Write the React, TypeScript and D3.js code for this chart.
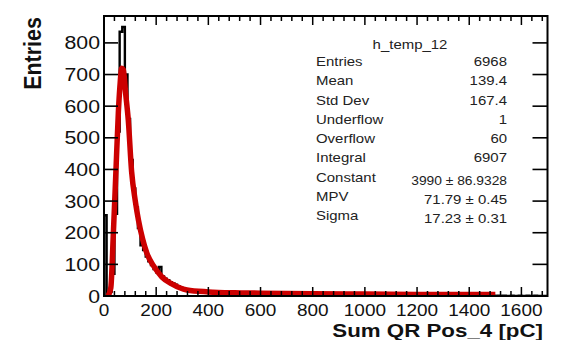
import * as d3 from 'd3';

// histogram counts, bins of 10 pC from 0 to 1700
const binWidth = 10;
const counts = [
  255, 3, 14, 70, 260, 520, 835, 850, 700, 560,
  430, 340, 280, 215, 160, 145, 125, 110, 98, 85,
  75, 92, 62, 55, 50, 44, 40, 36, 30, 26,
  22, 20, 19, 18, 16, 15, 15, 14, 13, 12,
  12, 11, 14, 10, 9, 10, 8, 9, 11, 8,
  8, 7, 9, 6, 7, 6, 8, 5, 6, 7,
  5, 6, 4, 5, 6, 4, 5, 3, 4, 5,
  4, 3, 5, 3, 4, 3, 4, 2, 3, 4,
  3, 2, 3, 3, 2, 4, 2, 3, 2, 3,
  2, 3, 2, 2, 3, 1, 2, 2, 3, 2,
  2, 1, 2, 2, 1, 3, 1, 2, 2, 1,
  1, 2, 1, 2, 1, 1, 2, 1, 1, 2,
  1, 1, 2, 1, 1, 1, 0, 2, 1, 1,
  1, 0, 1, 1, 2, 0, 1, 1, 0, 1,
  1, 1, 0, 1, 1, 0, 1, 0, 1, 1,
  0, 1, 0, 1, 0, 0, 1, 0, 0, 1,
  0, 0, 1, 0, 0, 1, 0, 0, 0, 0,
];

// landau fit curve
const fitX = [15, 26, 36, 46, 55, 61, 68, 74, 83, 93, 106, 120, 132, 148, 164, 190, 222, 260, 318, 400, 500, 600, 800, 1000, 1200, 1500];
const fitY = [0, 25, 200, 400, 580, 662, 720, 715, 640, 557, 392, 300, 240, 180, 136, 95, 60, 38, 19, 13, 10, 9, 7, 6, 5, 5];

const xTicks = [0, 200, 400, 600, 800, 1000, 1200, 1400, 1600];
const yTicks = [0, 100, 200, 300, 400, 500, 600, 700, 800];

const statTitle = 'h_temp_12';
const statLabels = ['Entries', 'Mean', 'Std Dev', 'Underflow', 'Overflow', 'Integral', 'Constant', 'MPV', 'Sigma'];
const statValues = ['6968', '139.4', '167.4', '1', '60', '6907', '3990 ± 86.9328', '71.79 ± 0.45', '17.23 ± 0.31'];

const font = '"Liberation Sans", Arial, Helvetica, sans-serif';

export default function App() {
  const width = 564;
  const height = 340;
  const frame = { left: 104, right: 547.5, top: 16, bottom: 296 };

  const x = d3.scaleLinear().domain([0, 1700]).range([frame.left, frame.right]);
  const y = d3.scaleLinear().domain([0, 885]).range([frame.bottom, frame.top]);

  const histPts: [number, number][] = counts.map((c, i) => [i * binWidth, c]);
  histPts.push([counts.length * binWidth, counts[counts.length - 1]]);
  const histLine = d3
    .line<[number, number]>()
    .x((d) => x(d[0]))
    .y((d) => y(d[1]))
    .curve(d3.curveStepAfter);
  const histPath = 'M' + x(0) + ',' + y(0) + 'L' + histLine(histPts)!.slice(1) + 'L' + x(1700) + ',' + y(0);

  const fitLine = d3
    .line<number>()
    .x((d, i) => x(fitX[i]))
    .y((d) => y(d))
    .curve(d3.curveMonotoneX);

  const minorX = d3.range(0, 1700, 40);
  const rowY = d3.scaleLinear().domain([0, statLabels.length - 1]).range([66, 220]);

  return (
    <svg
      width={width}
      height={height}
      viewBox={`0 0 ${width} ${height}`}
      style={{ position: 'absolute', left: 0, top: 0, background: '#fff' }}
      fontFamily={font}
    >
      <defs>
        <clipPath id="plot-clip">
          <rect x={frame.left} y={frame.top} width={frame.right - frame.left} height={frame.bottom - frame.top} />
        </clipPath>
      </defs>
      <rect width={width} height={height} fill="#fff" />

      <g clipPath="url(#plot-clip)">
        <path d={histPath} fill="none" stroke="#000" strokeWidth={2.4} />
        <path d={fitLine(fitY)!} fill="none" stroke="#cc0000" strokeWidth={5.5} strokeLinejoin="round" />
      </g>

      {/* ticks */}
      {yTicks.map((t) => (
        <g key={'yt' + t}>
          <line x1={frame.left} x2={frame.left + 14} y1={y(t)} y2={y(t)} stroke="#000" strokeWidth={1.6} />
          <line x1={frame.right} x2={frame.right - 15} y1={y(t)} y2={y(t)} stroke="#000" strokeWidth={1.6} />
          <text
            transform={`translate(100,${y(t) + 6.5}) scale(1.15,1)`}
            textAnchor="end"
            fontSize={18.5}
            fill="#111"
          >
            {t}
          </text>
        </g>
      ))}
      {minorX.map((t) => {
        const major = t % 200 === 0;
        const len = major ? 9 : 5;
        return (
          <g key={'xt' + t}>
            <line x1={x(t)} x2={x(t)} y1={frame.bottom} y2={frame.bottom - len} stroke="#000" strokeWidth={1.5} />
            <line x1={x(t)} x2={x(t)} y1={frame.top} y2={frame.top + len} stroke="#000" strokeWidth={1.5} />
          </g>
        );
      })}
      {xTicks.map((t) => (
        <text
          key={'xl' + t}
          transform={`translate(${x(t)},316) scale(1.15,1)`}
          textAnchor="middle"
          fontSize={16.5}
          fill="#111"
        >
          {t}
        </text>
      ))}

      {/* frame */}
      <rect
        x={frame.left}
        y={frame.top}
        width={frame.right - frame.left}
        height={frame.bottom - frame.top}
        fill="none"
        stroke="#000"
        strokeWidth={2}
      />

      {/* axis titles */}
      <text
        transform="translate(41,17) rotate(-90) scale(1,1.15)"
        textAnchor="end"
        fontSize={21.5}
        fontWeight="bold"
        fill="#111"
      >
        Entries
      </text>
      <text
        transform="translate(543,336.5) scale(1.24,1)"
        textAnchor="end"
        fontSize={18}
        fontWeight="bold"
        fill="#111"
      >
        Sum QR Pos_4 [pC]
      </text>

      {/* stats box */}
      <text transform="translate(410,49) scale(1.15,1)" textAnchor="middle" fontSize={13} fill="#222">
        {statTitle}
      </text>
      {statLabels.map((l, i) => (
        <g key={l}>
          <text transform={`translate(316,${rowY(i)}) scale(1.15,1)`} fontSize={13} fill="#222">
            {l}
          </text>
          <text
            transform={`translate(507,${rowY(i) + (i >= 6 ? 3 : 0)}) scale(1.15,1)`}
            textAnchor="end"
            fontSize={i === 6 ? 12 : 13}
            fill="#222"
          >
            {statValues[i]}
          </text>
        </g>
      ))}
    </svg>
  );
}
